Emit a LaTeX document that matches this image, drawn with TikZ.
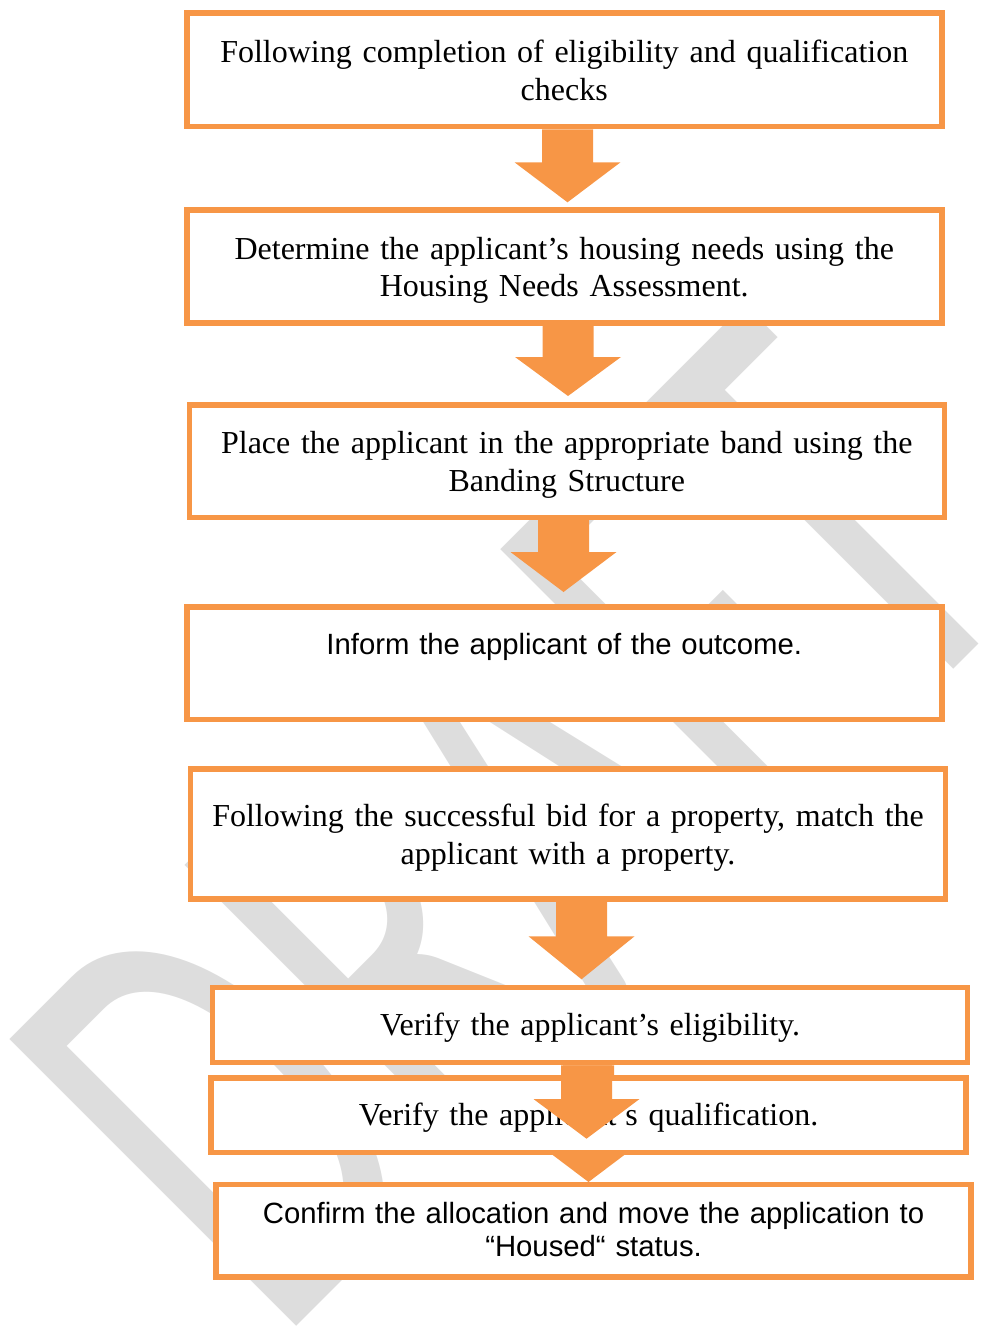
\documentclass[tikz,border=0pt]{standalone}
\usepackage{fontspec}
\usepackage{graphicx}
\setmainfont{Liberation Serif}
\newfontfamily\arialfont{Liberation Sans}
\newfontfamily\wmfont{Carlito}
\usetikzlibrary{calc}

\definecolor{boxorange}{RGB}{247,150,70}
\definecolor{wmgray}{RGB}{221,221,221}

\def\boxwidth{755pt}
\def\shaftw{25.5}
\def\headw{53}

\newcommand{\stagefont}{\fontsize{32}{37.7}\selectfont}
\newcommand{\sansstagefont}{\arialfont\fontsize{29.3}{33}\selectfont}

% block arrow: start, tip, head length
\newcommand{\blockarrow}[3]{%
    \fill[arrow fill] ($(#1)+(-\shaftw,0)$) -- ($(#1)+(\shaftw,0)$) -- ($(#2)+(\shaftw,-#3)$)
        -- ($(#2)+(\headw,-#3)$) -- (#2) -- ($(#2)+(-\headw,-#3)$) -- ($(#2)+(-\shaftw,-#3)$) -- cycle;}

\begin{document}
\begin{tikzpicture}[x=1pt,y=-1pt]
    \tikzstyle{stage}=[draw=boxorange, line width=5.5pt, fill=white, inner sep=0pt, text width=\boxwidth, align=center, anchor=north west, font=\stagefont]
    \tikzstyle{sans stage}=[stage, font=\sansstagefont]
    \tikzstyle{watermark}=[rotate=45, anchor=base west, inner sep=0pt, text=wmgray, font=\wmfont]
    \tikzstyle{arrow fill}=[fill=boxorange]

    \useasboundingbox (0,0) rectangle (983,1327);

    % Watermark behind everything
    \node[watermark] (wm) at (277.5,1345.8) {\resizebox{1068pt}{405pt}{DRAFT}};

    % Draw the stages
    \node[stage, text height=49.5pt, text depth=64pt] (b1) at (184,10.5)
        {Following completion of eligibility and qualification\\checks};
    \node[stage, text height=49.5pt, text depth=63.5pt] (b2) at (184,207)
        {Determine the applicant’s housing needs using the\\Housing Needs Assessment.};
    \node[stage, text height=48.8pt, text depth=63.7pt] (b3) at (186.5,402.2)
        {Place the applicant in the appropriate band using the\\Banding Structure};
    \node[sans stage, text height=47.8pt, text depth=64.6pt] (b4) at (184,604.2)
        {Inform the applicant of the outcome.};
    \node[stage, text height=57.8pt, text depth=72pt] (b5) at (187.8,766.2)
        {Following the successful bid for a property, match the\\applicant with a property.};
    \node[stage, text height=48.5pt, text depth=26.8pt] (b6) at (209.8,984.5)
        {Verify the applicant’s eligibility.};

    % Arrow tips
    \foreach \name/\x/\y in {1/567.5/202.3, 2/568/396, 3/563.5/592, 5/581.5/979.3, 6/586.5/1138.7, 7/588.5/1182}
        \coordinate (t\name) at (\x,\y);

    % Arrow starts on the boxes
    \coordinate (s1) at (b1.south -| t1);
    \coordinate (s2) at (b2.south -| t2);
    \coordinate (s3) at (b3.south -| t3);
    \coordinate (s5) at (b5.south -| t5);
    \coordinate (s6) at (b6.south -| t6);

    % Connect the stages
    \foreach \source/\len in {1/40,2/39,3/40,5/43}
        {\blockarrow{s\source}{t\source}{\len}}

    % the last arrow sits behind the qualification box
    \coordinate (s7) at (b6.south -| t7);
    \blockarrow{s7}{t7}{40}

    \node[stage, text height=47.2pt, text depth=27pt] (b7) at (208.3,1075.3)
        {Verify the applicant’s qualification.};

    % this one is drawn over it
    \blockarrow{s6}{t6}{39.7}

    \node[sans stage, text height=39.3pt, text depth=53pt] (b8) at (213.3,1181.7)
        {Confirm the allocation and move the application to\\“Housed“ status.};
\end{tikzpicture}
\end{document}
